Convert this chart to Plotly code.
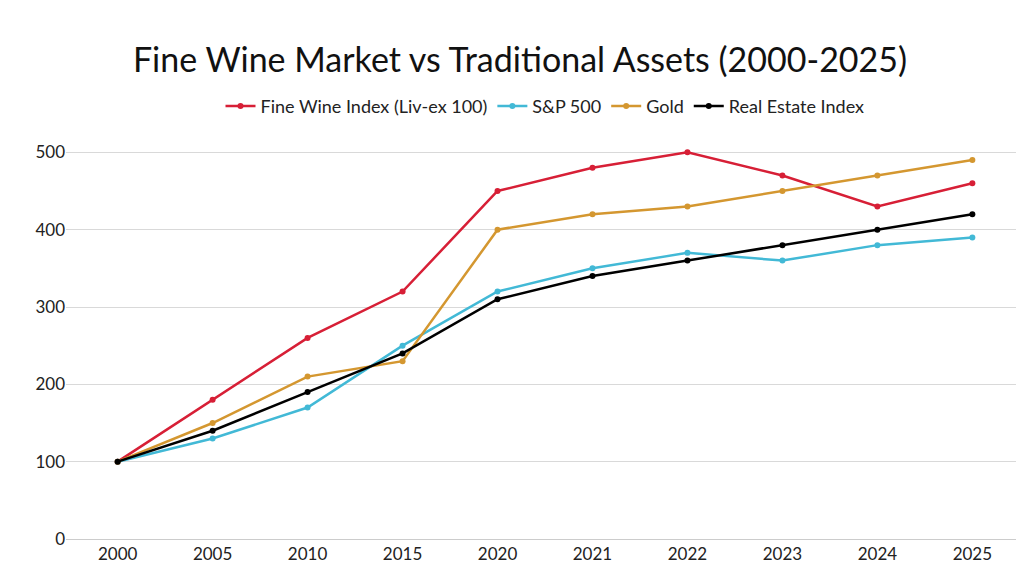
import plotly.graph_objects as go

years = ["2000", "2005", "2010", "2015", "2020", "2021", "2022", "2023", "2024", "2025"]
wine = [100, 180, 260, 320, 450, 480, 500, 470, 430, 460]
sp500 = [100, 130, 170, 250, 320, 350, 370, 360, 380, 390]
gold = [100, 150, 210, 230, 400, 420, 430, 450, 470, 490]
real_estate = [100, 140, 190, 240, 310, 340, 360, 380, 400, 420]

series = [
    ("Fine Wine Index (Liv-ex 100)", wine, "#D71F36"),
    ("S&P 500", sp500, "#42B9D6"),
    ("Gold", gold, "#D49730"),
    ("Real Estate Index", real_estate, "#000000"),
]

fig = go.Figure()
for name, vals, col in series:
    fig.add_trace(go.Scatter(
        x=years, y=vals, name=name, mode="lines+markers",
        line=dict(color=col, width=2.5),
        marker=dict(size=6, color=col),
    ))

fig.update_layout(
    width=1024, height=576,
    paper_bgcolor="white", plot_bgcolor="white",
    font=dict(family="Lato, Open Sans, sans-serif", size=17, color="#222"),
    title=dict(text="Fine Wine Market vs Traditional Assets (2000-2025)",
               x=0.5, xanchor="center", y=0.91, yanchor="middle",
               font=dict(size=34, color="#111")),
    legend=dict(orientation="h", x=0.5, xanchor="center", y=1.02, yanchor="bottom",
                font=dict(size=18), itemwidth=30),
    margin=dict(l=58, r=8, t=125, b=45),
    xaxis=dict(type="category", showgrid=False, showline=True, linecolor="#ccc",
               ticks="", tickfont=dict(size=17)),
    yaxis=dict(range=[0, 525], tickvals=[0, 100, 200, 300, 400, 500],
               gridcolor="#d9d9d9", zeroline=False, tickfont=dict(size=17)),
)

fig.write_html("out.html")
